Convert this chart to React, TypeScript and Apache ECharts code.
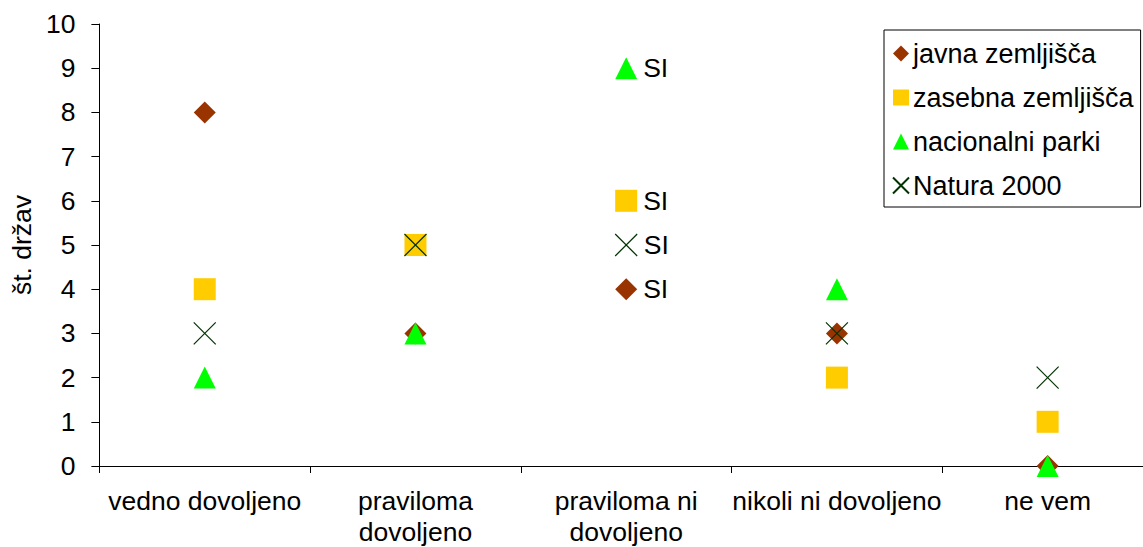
import React, { useEffect, useRef } from "react";
import * as echarts from "echarts";

const categories = [
  "vedno dovoljeno",
  "praviloma\ndovoljeno",
  "praviloma ni\ndovoljeno",
  "nikoli ni dovoljeno",
  "ne vem",
];
const seriesNames = ["javna zemljišča", "zasebna zemljišča", "nacionalni parki", "Natura 2000"];
const javna = [8, 3, 4, 3, 0];
const zasebna = [4, 5, 6, 2, 1];
const nacionalni = [2, 3, 9, 4, 0];
const natura = [3, 5, 5, 3, 2];
const labelIndex = 2;
const labelText = "SI";
const yTicks = { min: 0, max: 10, interval: 1 };

const FONT = "Liberation Sans, Arial, sans-serif";
const FS = 26.5;
const X_PATH = "path://M0 0 L10 10 M10 0 L0 10";

function withLabel(values: number[]) {
  return values.map((v, i) =>
    i === labelIndex
      ? {
          value: v,
          label: {
            show: true,
            position: "right",
            distance: 6,
            formatter: labelText,
            color: "#000",
            fontSize: FS,
            fontFamily: FONT,
          },
        }
      : v
  );
}

export default function App() {
  const ref = useRef<HTMLDivElement>(null);
  useEffect(() => {
    if (!ref.current) return;
    const chart = echarts.init(ref.current, null, { renderer: "svg" });
    const base = { type: "scatter", symbolSize: 22 };
    chart.setOption({
      animation: false,
      backgroundColor: "#fff",
      textStyle: { fontFamily: FONT },
      grid: { left: 97, top: 24, width: 1056, height: 448, containLabel: false },
      legend: {
        orient: "vertical",
        left: 884,
        top: 30,
        padding: [10, 7, 8, 8],
        itemGap: 17,
        itemWidth: 16,
        itemHeight: 16,
        backgroundColor: "#fff",
        borderColor: "#000",
        borderWidth: 1,
        textStyle: { fontSize: 27, color: "#000", fontFamily: FONT, padding: [0, 0, 0, -1] },
        data: seriesNames.map((n) => ({ name: n })),
      },
      xAxis: {
        type: "category",
        data: categories,
        boundaryGap: true,
        axisLine: { show: true, lineStyle: { color: "#000", width: 1 } },
        axisTick: { show: true, length: 7, lineStyle: { color: "#000" } },
        axisLabel: {
          color: "#000",
          fontSize: FS,
          fontFamily: FONT,
          margin: 19,
          lineHeight: 31,
          interval: 0,
        },
        splitLine: { show: false },
      },
      yAxis: {
        type: "value",
        min: yTicks.min,
        max: yTicks.max,
        interval: yTicks.interval,
        name: "št. držav",
        nameLocation: "middle",
        nameRotate: 90,
        nameGap: 58,
        nameTextStyle: { fontSize: FS, color: "#000", fontFamily: FONT },
        axisLine: { show: true, lineStyle: { color: "#000", width: 1 } },
        axisTick: { show: true, length: 8, lineStyle: { color: "#000" } },
        axisLabel: { color: "#000", fontSize: FS, fontFamily: FONT, margin: 24 },
        splitLine: { show: false },
      },
      series: [
        {
          ...base,
          name: seriesNames[0],
          symbol: "diamond",
          itemStyle: { color: "#993300", opacity: 1 },
          data: withLabel(javna),
        },
        {
          ...base,
          name: seriesNames[1],
          symbol: "rect",
          itemStyle: { color: "#FFCC00", opacity: 1 },
          data: withLabel(zasebna),
        },
        {
          ...base,
          name: seriesNames[2],
          symbol: "triangle",
          itemStyle: { color: "#00FF00", opacity: 1 },
          data: withLabel(nacionalni),
        },
        {
          ...base,
          name: seriesNames[3],
          symbol: X_PATH,
          itemStyle: { color: "transparent", borderColor: "#003300", borderWidth: 1.2, opacity: 1 },
          data: withLabel(natura),
        },
      ],
    });
    return () => chart.dispose();
  }, []);
  return (
    <div
      style={{
        position: "fixed",
        left: 0,
        top: 0,
        width: 1143,
        height: 547,
        overflow: "hidden",
        background: "#fff",
      }}
    >
      <div ref={ref} style={{ width: 1160, height: 547 }} />
    </div>
  );
}
